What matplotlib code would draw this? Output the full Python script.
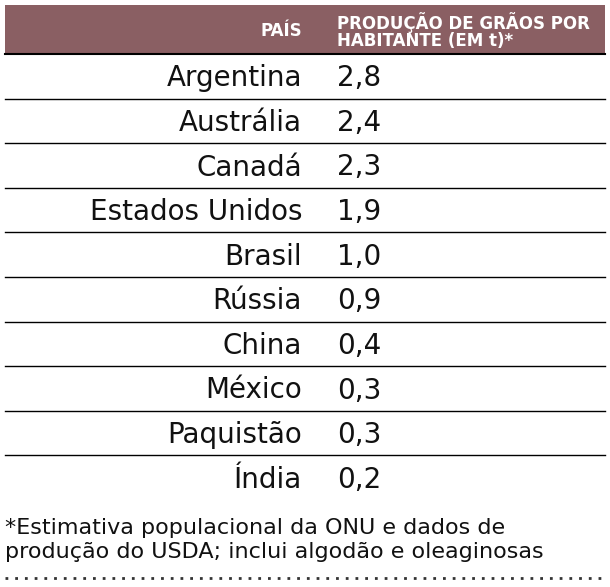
import matplotlib
matplotlib.use("Agg")
import matplotlib.pyplot as plt
from matplotlib import font_manager as fm

names = {f.name for f in fm.fontManager.ttflist}
FONT = "Liberation Sans Narrow" if "Liberation Sans Narrow" in names else "DejaVu Sans"

header = ["PAÍS", "PRODUÇÃO DE GRÃOS POR\nHABITANTE (EM t)*"]
countries = ["Argentina", "Austrália", "Canadá", "Estados Unidos", "Brasil",
             "Rússia", "China", "México", "Paquistão", "Índia"]
values = ["2,8", "2,4", "2,3", "1,9", "1,0", "0,9", "0,4", "0,3", "0,3", "0,2"]
footnote = "*Estimativa populacional da ONU e dados de\nprodução do USDA; inclui algodão e oleaginosas"

W, H = 610, 587
fig = plt.figure(figsize=(W/100, H/100), dpi=100)
ax = fig.add_axes([0, 0, 1, 1])
ax.set_xlim(0, W); ax.set_ylim(H, 0); ax.axis("off")

ax.add_patch(plt.Rectangle((5, 5), 600, 49, color="#8a5f63", lw=0))
ax.plot([5, 605], [54, 54], color="black", lw=1.5)
ax.text(302, 31, header[0], ha="right", va="center", color="white",
        fontsize=12, fontweight="bold", family=FONT)
ax.text(337, 31, header[1], ha="left", va="center", color="white",
        fontsize=12, fontweight="bold", family=FONT, linespacing=0.95)

rh = 44.6
for i, (c, v) in enumerate(zip(countries, values)):
    y0 = 54 + i * rh
    yc = y0 + rh / 2 + 2
    ax.text(302, yc, c, ha="right", va="center", fontsize=20, family=FONT, color="#111")
    ax.text(337, yc, v, ha="left", va="center", fontsize=20, family=FONT, color="#111")
    if i < len(countries) - 1:
        ax.plot([5, 605], [y0 + rh, y0 + rh], color="black", lw=1)

ax.text(5, 540, footnote, ha="left", va="center", fontsize=16, family=FONT,
        color="#111", linespacing=1.2)
ax.plot([5, 605], [578, 578], color="#333", lw=2, linestyle=(0, (1, 2.5)))

fig.savefig("out.png", dpi=100)
